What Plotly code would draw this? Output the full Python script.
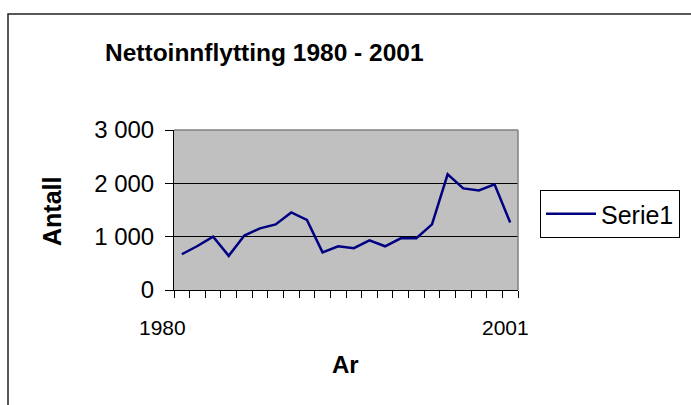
import plotly.graph_objects as go

years = list(range(1980, 2002))
values = [670, 825, 1000, 640, 1020, 1155, 1230, 1455, 1315, 705,
          820, 785, 930, 820, 970, 970, 1230, 2170, 1905, 1865, 1980, 1265]
series_name = "Serie1"
title_text = "Nettoinnflytting 1980 - 2001"
x_title = "Ar"
y_title = "Antall"
x_labels = ["1980", "2001"]
y_ticks = [0, 1000, 2000, 3000]

W, H = 691, 405
L, R, T, B = 174, 518, 130, 290  # plot area pixels


def px(x):
    return (x - L) / (R - L)


def py(y):
    return (B - y) / (B - T)


FONT = "Liberation Sans, Arial, sans-serif"

fig = go.Figure()
fig.add_trace(go.Scatter(
    x=years, y=values, mode="lines", name=series_name,
    line=dict(color="#000080", width=2.5),
))

fig.update_layout(
    width=W, height=H,
    margin=dict(l=L, r=W - R, t=T, b=H - B, autoexpand=False),
    paper_bgcolor="white",
    plot_bgcolor="#C0C0C0",
    separators=", ",
    font=dict(family=FONT, color="black"),
    showlegend=True,
    legend=dict(
        x=px(540), y=py(190), xanchor="left", yanchor="top",
        bordercolor="black", borderwidth=1, bgcolor="white",
        font=dict(size=25, family=FONT),
        itemwidth=50,
    ),
    xaxis=dict(
        range=[1979.5, 2001.5],
        showgrid=False, zeroline=False,
        showline=True, linecolor="black", linewidth=1,
        tickvals=[], showticklabels=False,
        minor=dict(ticks="outside", ticklen=7, tickcolor="black",
                   tick0=1979.5, dtick=1, showgrid=False),
    ),
    yaxis=dict(
        range=[0, 3000],
        tickvals=y_ticks, tickformat=",d",
        showgrid=True, gridcolor="black", gridwidth=1,
        zeroline=False,
        showline=True, linecolor="black", linewidth=1,
        ticks="outside", ticklen=8, tickcolor="black",
        tickfont=dict(size=24, family=FONT),
        ticklabelstandoff=6,
    ),
    annotations=[
        dict(text=f"<b>{title_text}</b>", xref="paper", yref="paper",
             x=px(264), y=py(52), xanchor="center", yanchor="middle",
             showarrow=False, font=dict(size=24.5, family=FONT)),
        dict(text=f"<b>{y_title}</b>", xref="paper", yref="paper",
             x=px(52), y=py(212), xanchor="center", yanchor="middle",
             textangle=-90, showarrow=False, font=dict(size=25, family=FONT)),
        dict(text=f"<b>{x_title}</b>", xref="paper", yref="paper",
             x=px(345), y=py(364), xanchor="center", yanchor="middle",
             showarrow=False, font=dict(size=24, family=FONT)),
        dict(text=x_labels[0], xref="x", yref="paper",
             x=years[0], xshift=-19, y=py(327), xanchor="center", yanchor="middle",
             showarrow=False, font=dict(size=21, family=FONT)),
        dict(text=x_labels[1], xref="x", yref="paper",
             x=years[-1], xshift=-5, y=py(327), xanchor="center", yanchor="middle",
             showarrow=False, font=dict(size=21, family=FONT)),
    ],
    shapes=[
        dict(type="rect", xref="paper", yref="paper",
             x0=px(8), y0=py(420), x1=px(700), y1=py(14),
             line=dict(color="#222222", width=1.5), fillcolor="rgba(0,0,0,0)",
             layer="below"),
        dict(type="line", xref="paper", yref="paper",
             x0=0, y0=1, x1=1, y1=1, line=dict(color="#808080", width=1.5)),
        dict(type="line", xref="paper", yref="paper",
             x0=1, y0=0, x1=1, y1=1, line=dict(color="#808080", width=1.5)),
    ],
)

fig.write_html("out.html",
               config={"displayModeBar": False},
               post_script="document.body.style.margin='0';document.body.style.overflow='hidden';")
